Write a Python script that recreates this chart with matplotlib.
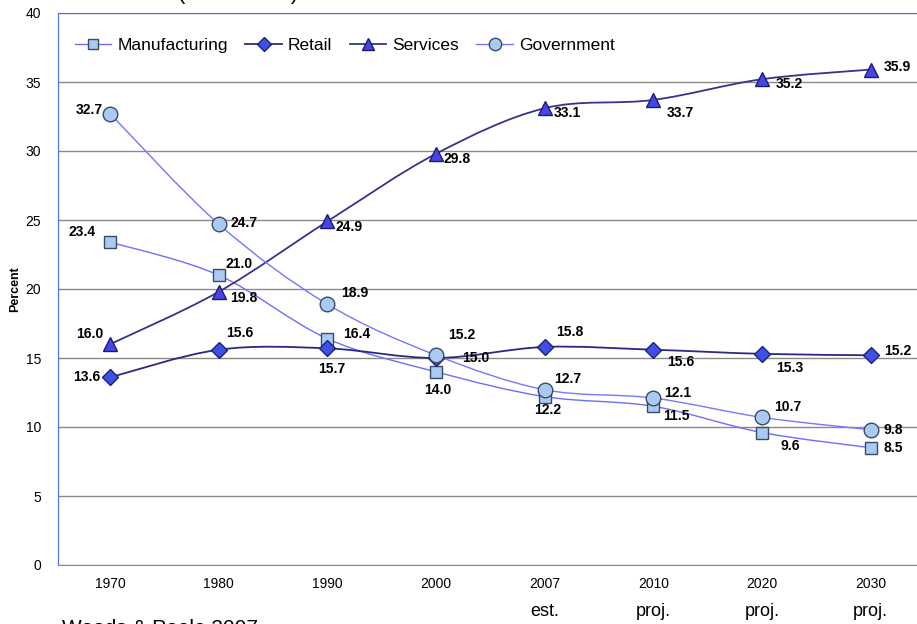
import numpy as np
import matplotlib
matplotlib.use("Agg")
import matplotlib.pyplot as plt
from matplotlib.path import Path
from matplotlib.patches import PathPatch
from matplotlib.lines import Line2D

plt.rcParams['font.family'] = ['Liberation Sans', 'DejaVu Sans']

### data ###
years = ['1970', '1980', '1990', '2000', '2007', '2010', '2020', '2030']
year_notes = ['', '', '', '', 'est.', 'proj.', 'proj.', 'proj.']
manufacturing = [23.4, 21.0, 16.4, 14.0, 12.2, 11.5, 9.6, 8.5]
retail = [13.6, 15.6, 15.7, 15.0, 15.8, 15.6, 15.3, 15.2]
services = [16.0, 19.8, 24.9, 29.8, 33.1, 33.7, 35.2, 35.9]
government = [32.7, 24.7, 18.9, 15.2, 12.7, 12.1, 10.7, 9.8]

# label offsets in pixels (dx, dy up)
manu_off = [(-28, 10), (20, 11), (29, 5), (2, -18), (3, -13), (23, -10), (28, -13), (23, 0)]
retail_off = [(-23, 0), (21, 17), (4, -21), (40, 0), (25, 15), (27, -12), (28, -14), (27, 4)]
serv_off = [(-20, 10), (25, -6), (22, -6), (21, -5), (23, -5), (27, -13), (27, -5), (27, 3)]
gov_off = [(-21, 4), (25, 1), (27, 11), (26, 20), (23, 11), (24, 5), (26, 10), (23, 0)]


def smooth_path(xs, ys, k=1/6.):
    # cubic bezier through points (excel style smoothing)
    pts = np.column_stack([xs, ys]).astype(float)
    verts = [pts[0]]
    codes = [Path.MOVETO]
    n = len(pts)
    for i in range(n - 1):
        p0 = pts[max(i - 1, 0)]
        p1 = pts[i]
        p2 = pts[i + 1]
        p3 = pts[min(i + 2, n - 1)]
        c1 = p1 + (p2 - p0) * k
        c2 = p2 - (p3 - p1) * k
        verts += [c1, c2, p2]
        codes += [Path.CURVE4] * 3
    return Path(verts, codes)


fig = plt.figure(figsize=(9.17, 6.24), dpi=100)
ax = fig.add_axes([58/917, 59/624, 869/917, 552/624])
ax.set_xlim(-0.48, 7.52)
ax.set_ylim(0, 40)

x = np.arange(len(years))

series = [
    ('Manufacturing', manufacturing, manu_off, 's', 9, '#a9cbf2', '#3c4a66', '#6e6ef5', 1.0),
    ('Retail', retail, retail_off, 'D', 8, '#3e50e6', '#1c2278', '#2a2a80', 1.3),
    ('Services', services, serv_off, '^', 10.5, '#4646e6', '#1c1c6e', '#36338a', 1.3),
    ('Government', government, gov_off, 'o', 10.5, '#a9cbf2', '#3c4a66', '#7676ff', 1.0),
]

handles = []
for name, vals, offs, mk, ms, fc, ec, lc, lw in series:
    ax.add_patch(PathPatch(smooth_path(x, vals), fill=False, edgecolor=lc, lw=lw, zorder=2))
    ax.plot(x, vals, linestyle='none', marker=mk, ms=ms, mfc=fc, mec=ec, mew=1.0, zorder=3)
    for xi, v, (dx, dy) in zip(x, vals, offs):
        ax.annotate('%.1f' % v, (xi, v), xytext=(dx, dy), textcoords='offset pixels',
                    ha='center', va='center', fontsize=10, fontweight='bold', zorder=4)
    handles.append(Line2D([], [], color=lc, lw=lw, marker=mk, ms=ms * 0.85, mfc=fc, mec=ec, label=name))

ax.legend(handles=handles, loc='center left', ncol=4, frameon=False, fontsize=12.5,
          bbox_to_anchor=(17/869, 520/552), borderaxespad=0, borderpad=0,
          handlelength=2.1, handletextpad=0.35, columnspacing=1.0)

ax.set_yticks(range(0, 45, 5))
ax.yaxis.grid(True, color='#8a8a8a', lw=1.0)
ax.set_axisbelow(True)
ax.tick_params(axis='y', length=0, labelsize=10, pad=12)
ax.set_xticks(x)
ax.set_xticklabels(years, fontsize=10, family=['Liberation Sans Narrow', 'Liberation Sans'])
ax.tick_params(axis='x', length=0, pad=9)
for s in ['left', 'top']:
    ax.spines[s].set_color('#4a6cf0')
ax.spines['bottom'].set_color('#8a8a8a')
ax.spines['right'].set_visible(False)
ax.set_ylabel('Percent', fontsize=9, fontweight='bold', labelpad=3)

for xi, note in zip(x, year_notes):
    if note:
        ax.annotate(note, (xi, 0), xytext=(0, -47), textcoords='offset pixels',
                    ha='center', va='center', fontsize=13, annotation_clip=False)

fig.text(178/917, 1 + 1/624, '(1970-2030)', fontsize=16, va='baseline', ha='left')
fig.text(62/917, -10/624, 'Woods & Poole 2007', fontsize=15, va='baseline', ha='left')

fig.savefig('out.png', dpi=100)
